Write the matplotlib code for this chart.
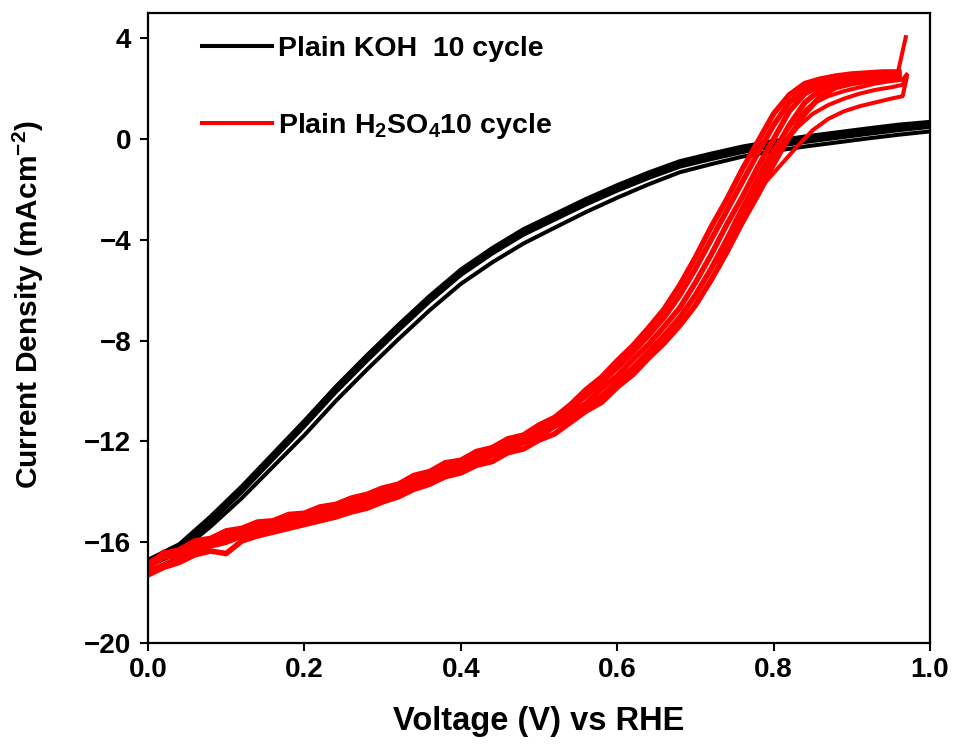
import matplotlib
matplotlib.use('Agg')
import matplotlib.pyplot as plt

plt.rcParams['font.family'] = ['Liberation Sans', 'DejaVu Sans']
plt.rcParams['font.weight'] = 'bold'
plt.rcParams['mathtext.fontset'] = 'custom'
plt.rcParams['mathtext.rm'] = 'Liberation Sans:bold'
plt.rcParams['mathtext.bf'] = 'Liberation Sans:bold'
plt.rcParams['mathtext.default'] = 'bf'

# Plain KOH, 10 cycles (voltage vs RHE, current density mA/cm2)
koh_v = [0.00, 0.04, 0.08, 0.12, 0.16, 0.20, 0.24, 0.28, 0.32, 0.36, 0.40, 0.44, 0.48,
         0.52, 0.56, 0.60, 0.64, 0.68, 0.72, 0.76, 0.80, 0.84, 0.88, 0.92, 0.96, 1.00]
koh_top = [-16.7, -16.08, -14.98, -13.78, -12.48, -11.18, -9.83, -8.58, -7.38, -6.23, -5.18, -4.33, -3.58,
           -2.98, -2.38, -1.83, -1.33, -0.88, -0.58, -0.3, -0.08, 0.1, 0.26, 0.42, 0.57, 0.68]
koh_mid = [-16.8, -16.2, -15.1, -13.9, -12.6, -11.3, -9.95, -8.7, -7.5, -6.35, -5.3, -4.45, -3.7,
           -3.1, -2.5, -1.95, -1.45, -1.0, -0.7, -0.42, -0.2, -0.02, 0.14, 0.3, 0.45, 0.58]
koh_low = [-16.85, -16.3, -15.2, -14.0, -12.7, -11.4, -10.05, -8.8, -7.6, -6.45, -5.4, -4.55, -3.8,
           -3.2, -2.6, -2.05, -1.55, -1.1, -0.8, -0.52, -0.3, -0.12, 0.04, 0.2, 0.35, 0.48]
koh_rev = [-16.95, -16.4, -15.38, -14.25, -13.0, -11.75, -10.4, -9.15, -7.95, -6.8, -5.75, -4.9, -4.15,
           -3.52, -2.9, -2.33, -1.8, -1.32, -1.0, -0.7, -0.48, -0.3, -0.14, 0.02, 0.17, 0.3]

# Plain H2SO4, 10 cycles
h2so4_v = [0.00, 0.02, 0.04, 0.06, 0.08, 0.10, 0.12, 0.14, 0.16, 0.18, 0.20, 0.22, 0.24, 0.26,
           0.28, 0.30, 0.32, 0.34, 0.36, 0.38, 0.40, 0.42, 0.44, 0.46, 0.48, 0.50, 0.52, 0.54,
           0.56, 0.58, 0.60, 0.62, 0.64, 0.66, 0.68, 0.70, 0.72, 0.74, 0.76, 0.78, 0.80, 0.82,
           0.84, 0.86, 0.88, 0.90, 0.92, 0.94, 0.96]
h2so4_a = [-16.85, -16.45, -16.3, -15.95, -15.85, -15.55, -15.45, -15.2, -15.15, -14.9, -14.85, -14.6,
           -14.5, -14.25, -14.1, -13.85, -13.7, -13.35, -13.2, -12.85, -12.75, -12.4, -12.25, -11.9,
           -11.75, -11.35, -11.05,
           -10.55, -9.95, -9.45, -8.8, -8.2, -7.5, -6.75, -5.8, -4.7, -3.5, -2.4, -1.2, -0.1, 1.0,
           1.75, 2.2, 2.38, 2.5, 2.58, 2.62, 2.66, 2.66]
h2so4_ab = [-16.95, -16.6, -16.45, -16.1, -15.9, -15.75, -15.5, -15.4, -15.2, -15.1, -14.9, -14.8,
            -14.6, -14.45, -14.2, -14.05, -13.75, -13.55, -13.25, -13.05, -12.8, -12.6, -12.3, -12.1,
            -11.8, -11.55, -11.15,
            -10.68, -10.2, -9.65, -9.08, -8.45, -7.8, -7.08, -6.2, -5.15, -4.0, -2.85, -1.7, -0.55,
            0.55, 1.45, 2.0, 2.3, 2.42, 2.5, 2.55, 2.6, 2.6]
h2so4_b = [-17.05, -16.4, -16.55, -16.2, -16.1, -15.8, -15.7, -15.45, -15.4, -15.15, -15.1, -14.85,
           -14.8, -14.5, -14.4, -14.1, -13.95, -13.6, -13.45, -13.1, -13.0, -12.65, -12.5, -12.15,
           -12.0, -11.6, -11.35,
           -10.85, -10.5, -9.9, -9.4, -8.75, -8.15, -7.45, -6.7, -5.7, -4.6, -3.4, -2.3, -1.1, 0.0,
           1.1, 1.8, 2.15, 2.3, 2.42, 2.48, 2.52, 2.55]
h2so4_bc = [-17.15, -16.9, -16.6, -16.4, -16.15, -16.0, -15.75, -15.65, -15.45, -15.35, -15.15, -15.05,
            -14.85, -14.7, -14.45, -14.3, -14.0, -13.8, -13.5, -13.3, -13.05, -12.85, -12.55, -12.35,
            -12.05, -11.8, -11.4,
            -11.1, -10.68, -10.2, -9.65, -9.08, -8.45, -7.8, -7.08, -6.2, -5.15, -4.0, -2.85, -1.7,
            -0.55, 0.55, 1.45, 1.95, 2.2, 2.32, 2.4, 2.45, 2.48]
h2so4_c = [-17.3, -17.0, -16.8, -16.5, -16.35, -16.45, -15.95, -15.75, -15.6, -15.45, -15.3, -15.15,
           -15.0, -14.8, -14.65, -14.4, -14.2, -13.9, -13.7, -13.4, -13.25, -12.95, -12.8, -12.45,
           -12.3, -11.95, -11.7,
           -11.25, -10.8, -10.45, -9.85, -9.35, -8.7, -8.1, -7.4, -6.6, -5.6, -4.5, -3.3, -2.2, -1.0,
           0.1, 1.0, 1.7, 2.05, 2.2, 2.3, 2.35, 2.4]
# reverse sweeps near the anodic end
h2so4_rev_v = [0.970, 0.965, 0.95, 0.93, 0.91, 0.89, 0.87, 0.85, 0.83, 0.81, 0.79, 0.77, 0.75, 0.73]
h2so4_rev1 = [2.4, 1.7, 1.6, 1.45, 1.3, 1.1, 0.8, 0.35, -0.3, -1.0, -1.7, -2.8, -3.9, -5.1]
h2so4_rev2 = [2.5, 2.15, 2.05, 1.95, 1.8, 1.6, 1.35, 1.0, 0.45, -0.35, -1.3, -2.5, -3.7, -4.9]
h2so4_rev3 = [2.55, 2.35, 2.3, 2.2, 2.05, 1.9, 1.7, 1.4, 0.85, 0.05, -0.9, -2.1, -3.3, -4.6]
spike_v = [0.959, 0.969]
spike_j = [2.65, 4.04]

fig = plt.figure(figsize=(9.55, 7.49), dpi=100)
ax = fig.add_axes([148 / 955, 106 / 749, 782 / 955, 630 / 749])

koh_lines = []
for j in [koh_rev, koh_low, koh_mid, koh_top]:
    koh_lines += ax.plot(koh_v, j, color='black', lw=2.9)

red_lines = []
for j in [h2so4_a, h2so4_ab, h2so4_b, h2so4_bc, h2so4_c]:
    red_lines += ax.plot(h2so4_v, j, color='red', lw=4.0)
for j in [h2so4_rev1, h2so4_rev2, h2so4_rev3]:
    ax.plot(h2so4_rev_v, j, color='red', lw=2.9)
ax.plot(spike_v, spike_j, color='red', lw=2.9)

ax.set_xlim(0, 1.0)
ax.set_ylim(-20, 5)
ax.set_xticks([0.0, 0.2, 0.4, 0.6, 0.8, 1.0])
ax.set_yticks([-20, -16, -12, -8, -4, 0, 4])
ax.tick_params(direction='out', length=6, width=1.5, labelsize=20)
ax.tick_params(axis='y', pad=6)
ax.tick_params(axis='x', pad=4)
for s in ax.spines.values():
    s.set_linewidth(1.6)

ax.set_xlabel('Voltage (V) vs RHE', fontsize=23.5, fontweight='bold')
ax.set_ylabel('Current Density (mAcm$^{-2}$)', fontsize=21.5, fontweight='bold')
ax.xaxis.set_label_coords(0.5, -0.1)
ax.yaxis.set_label_coords(-0.131, 0.537)

leg = ax.legend([koh_lines[0], red_lines[0]],
                ['Plain KOH  10 cycle', 'Plain H$_2$SO$_4$10 cycle'],
                loc='upper left', bbox_to_anchor=(0.069, 0.963), frameon=False,
                fontsize=20.5, handlelength=2.46, handletextpad=0.21,
                labelspacing=1.7, borderpad=0, borderaxespad=0)
for h in leg.legend_handles:
    h.set_linewidth(2.9)

fig.savefig('out.png', dpi=100)
